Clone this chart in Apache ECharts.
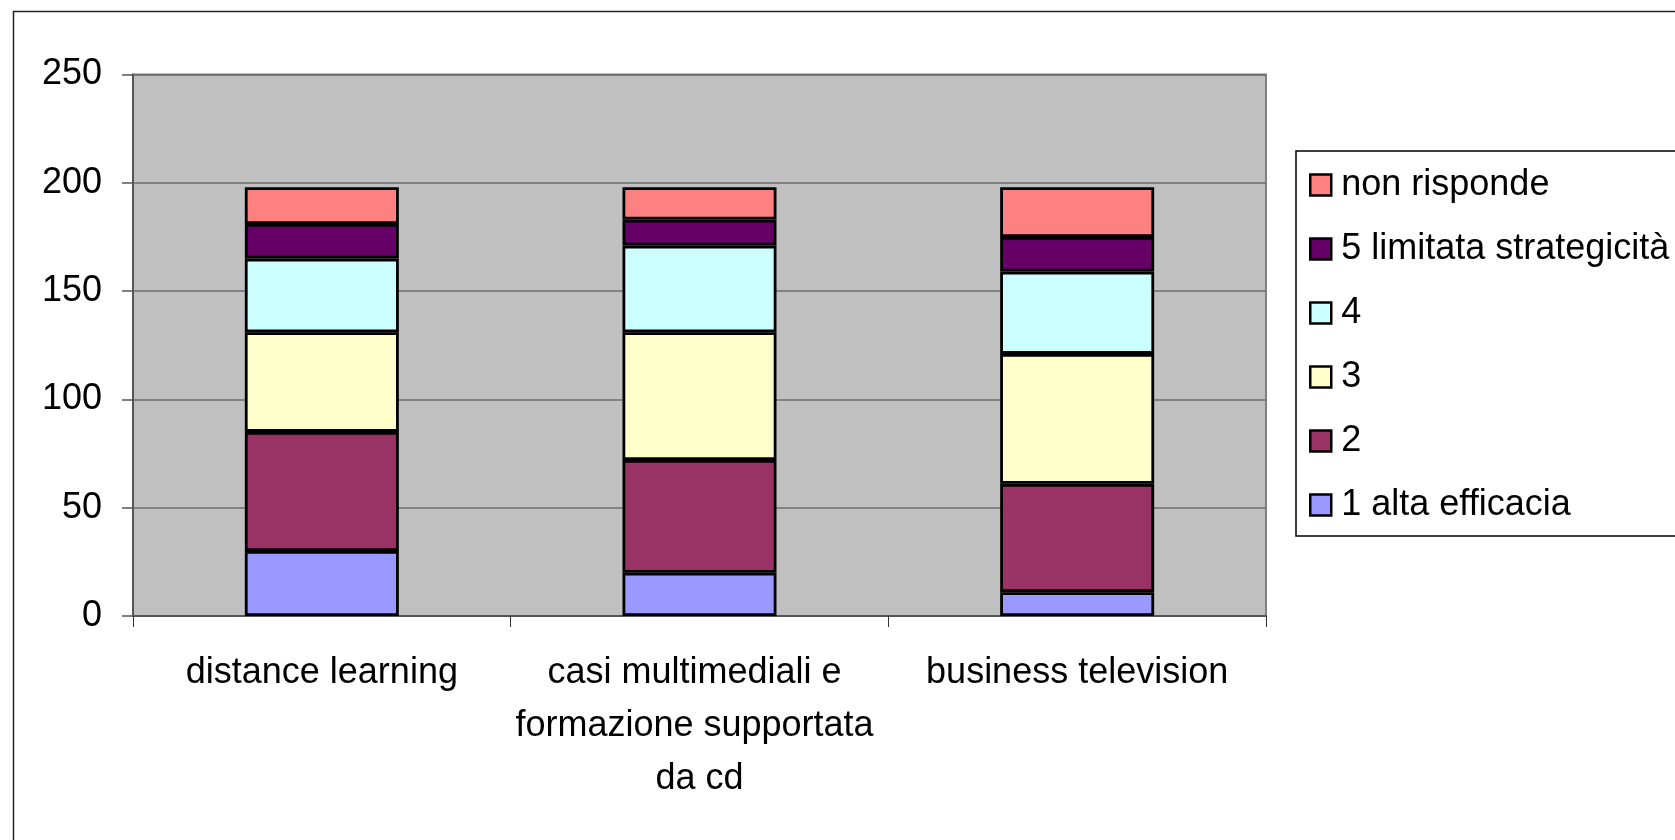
<!DOCTYPE html>
<html>
<head>
<meta charset="utf-8">
<script src="https://cdn.jsdelivr.net/npm/echarts@6/dist/echarts.min.js"></script>
<style>
    html, body { margin: 0; padding: 0; background: #fff; }
    #main { width: 1675px; height: 840px; }
</style>
</head>
<body>
<div id="main"></div>
<script>
var categories = ['distance learning', 'casi multimediali e formazione supportata da cd', 'business television'];
var seriesNames = ['1 alta efficacia', '2', '3', '4', '5 limitata strategicità', 'non risponde'];
var alta = [30, 20, 11];
var due = [55, 52, 50];
var tre = [46, 59, 60];
var quattro = [34, 40, 38];
var cinque = [16, 12, 16];
var nonRisponde = [17, 15, 23];
var yTicks = [0, 50, 100, 150, 200, 250];

var colors = ['#9999ff', '#993366', '#ffffcc', '#ccffff', '#660066', '#ff8080'];
var values = [alta, due, tre, quattro, cinque, nonRisponde];
var font = '"Liberation Sans", Arial, sans-serif';

var myChart = echarts.init(document.getElementById('main'));

var series = [];
for (var i = 0; i < seriesNames.length; i++) {
    series.push({
        type: 'bar',
        name: seriesNames[i],
        stack: 'total',
        barWidth: 154,
        data: values[i],
        itemStyle: {
            color: colors[i],
            borderColor: '#000',
            borderWidth: 2.8
        }
    });
}

var option = {
    animation: false,
    backgroundColor: '#fff',
    textStyle: { fontFamily: font },
    graphic: [{
        type: 'rect',
        shape: { x: 13.5, y: 11.5, width: 1700, height: 900 },
        style: { fill: 'none', stroke: '#222', lineWidth: 1.5 },
        silent: true
    }],
    grid: {
        left: 133,
        top: 74.5,
        right: 409,
        bottom: 224,
        show: true,
        backgroundColor: '#c0c0c0',
        borderColor: '#808080',
        borderWidth: 2
    },
    legend: {
        orient: 'vertical',
        left: 1296,
        top: 151,
        padding: [14, 40, 11, 13],
        borderColor: '#000',
        borderWidth: 1.5,
        backgroundColor: '#fff',
        itemGap: 24,
        itemWidth: 21,
        itemHeight: 21,
        icon: 'rect',
        data: seriesNames.slice().reverse(),
        itemStyle: { borderColor: '#000', borderWidth: 2.5 },
        textStyle: {
            color: '#000',
            fontSize: 36,
            lineHeight: 40,
            fontFamily: font,
            padding: [0, 0, 0, 5]
        }
    },
    xAxis: {
        type: 'category',
        data: categories,
        axisLine: { lineStyle: { color: '#555', width: 2 } },
        axisTick: { show: true, interval: 0, length: 11, lineStyle: { color: '#333', width: 1 } },
        axisLabel: {
            interval: 0,
            color: '#000',
            fontSize: 36,
            lineHeight: 53,
            margin: 31,
            width: 378,
            overflow: 'break',
            fontFamily: font
        }
    },
    yAxis: {
        type: 'value',
        min: yTicks[0],
        max: yTicks[yTicks.length - 1],
        interval: 50,
        axisLine: { show: true, lineStyle: { color: '#555', width: 2 } },
        axisTick: { show: true, length: 11, lineStyle: { color: '#555', width: 1.5 } },
        axisLabel: {
            color: '#000',
            fontSize: 36,
            margin: 31,
            fontFamily: font
        },
        splitLine: { show: true, lineStyle: { color: '#6e6e6e', width: 1.5 } }
    },
    series: series
};
myChart.setOption(option);
</script>
</body>
</html>
